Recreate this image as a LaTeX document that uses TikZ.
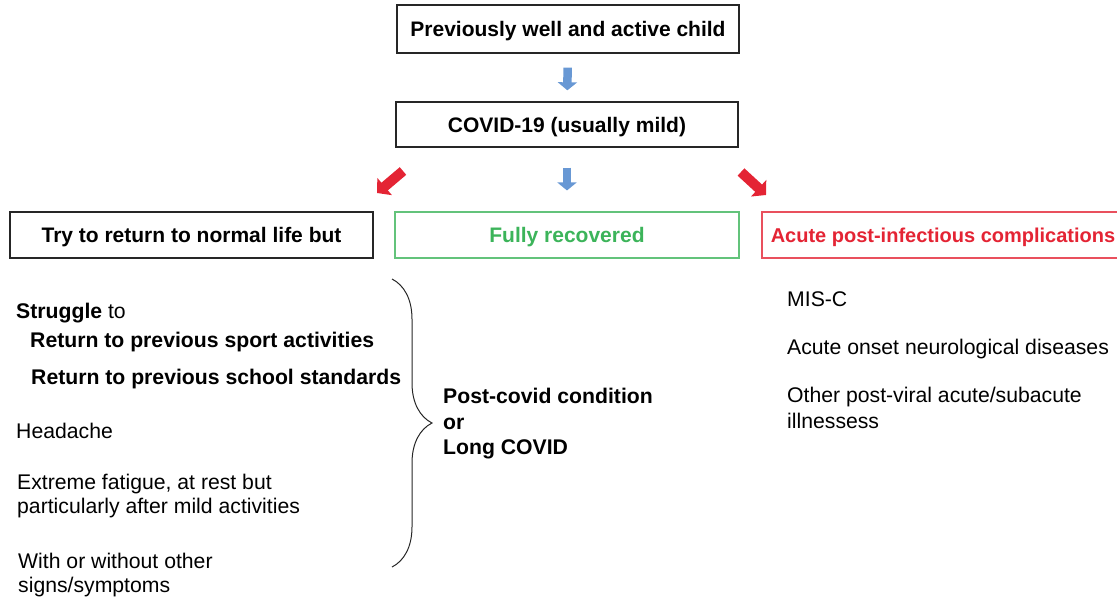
\documentclass[tikz,border=0pt]{standalone}
\usepackage{fontspec}
\setmainfont{Liberation Sans}
\usetikzlibrary{positioning}
\usetikzlibrary{arrows.meta}
\usetikzlibrary{decorations.pathreplacing}
\definecolor{arrowblue}{RGB}{104,152,212}
\definecolor{boxred}{RGB}{228,36,52}
\definecolor{boxgreen}{RGB}{60,180,90}
\tikzstyle{Box} = [rectangle,draw=black!85,line width=1.4pt,fill=white,inner sep=0pt,text height=15pt,text depth=0pt,font=\fontsize{21}{25}\selectfont\bfseries]
\tikzstyle{GreenBox} = [Box,draw=boxgreen!80,line width=1.1pt,text=boxgreen]
\tikzstyle{RedBox} = [Box,draw=boxred!80,line width=1.1pt,text=boxred,font=\fontsize{20}{24}\selectfont\bfseries,text height=14.3pt]
\tikzstyle{Txt} = [anchor=base west,inner sep=0pt,align=left]
\tikzstyle{BlueArr} = [arrowblue,line width=8.5pt,-{Triangle[width=19pt,length=8pt]}]
\tikzstyle{RedArr} = [boxred,line width=10pt,-{Triangle[width=22pt,length=10pt]}]

\begin{document}
\begin{tikzpicture}[x=1pt,y=-1pt,font=\fontsize{21.2}{24}\selectfont]
  \useasboundingbox (0,0) rectangle (1117,598);

  \node [Box,minimum width=342pt,minimum height=48pt] (well) at (568,29) {Previously well and active child};
  \node [Box,minimum width=342pt,minimum height=45pt] (covid) at (567,124.5) {COVID-19 (usually mild)};

  \node [Box,minimum width=363pt,minimum height=46pt] (try) at (191.5,235) {Try to return to normal life but};
  \node [GreenBox,minimum width=344pt,minimum height=46pt] (rec) at (567,235) {Fully recovered};
  \node [RedBox,minimum width=362pt,minimum height=46pt] (acute) at (943,235) {Acute post-infectious complications};

  \draw [BlueArr,shorten <=14pt,shorten >=11pt] (well) -- (covid);
  \draw [BlueArr,shorten <=20pt,shorten >=21pt] (covid) -- (rec);

  \coordinate (l1) at (403,171);
  \coordinate (l2) at (377,193);
  \coordinate (r1) at (741,172);
  \coordinate (r2) at (766,195);
  \draw [RedArr] (l1) -- (l2);
  \draw [RedArr] (r1) -- (r2);

  % left column (base = last line)
  \node [Txt] (strug) at (16,318.5) {\textbf{Struggle} to};
  \node [Txt] (sport) at (30,347.5) {\textbf{Return to previous sport activities}};
  \node [Txt] (school) at (31,384.5) {\textbf{Return to previous school standards}};
  \node [Txt] (head) at (16,438.5) {Headache};
  \node [Txt] (fat) at (17,513.5) {Extreme fatigue, at rest but\\particularly after mild activities};
  \node [Txt] (other) at (18,592.5) {With or without other\\signs/symptoms};

  \coordinate (bt) at (392,279);
  \coordinate (bb) at (392,567);
  \draw [line width=1pt,black!85,decorate,decoration={brace,amplitude=40pt}] (bt) -- (bb);

  \node [Txt,font=\fontsize{21.2}{25.5}\selectfont\bfseries] (long) at (443,454.5) {Post-covid condition\\or\\Long COVID};

  % right column
  \node [Txt] (misc) at (787,306.5) {MIS-C};
  \node [Txt] (neuro) at (787,354.5) {Acute onset neurological diseases};
  \node [Txt,font=\fontsize{21.2}{26}\selectfont] (viral) at (787,428.5) {Other post-viral acute/subacute\\illnessess};
\end{tikzpicture}
\end{document}
